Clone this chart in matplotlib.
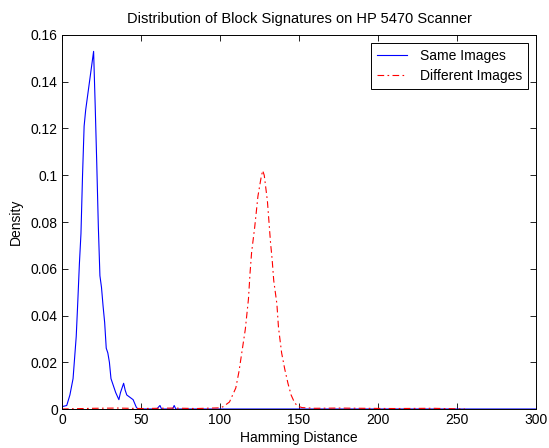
import numpy as np
import matplotlib
matplotlib.use('Agg')
import matplotlib.pyplot as plt

plt.rcParams['font.family'] = ['Liberation Sans', 'DejaVu Sans']

# Same Images (blue)
same_x = [0, 3, 5, 7, 9, 10, 11, 12, 13, 14, 15, 17, 19, 20, 21, 22, 23, 24, 25, 26,
          27, 28, 29, 30, 31, 32, 33, 34, 36, 37, 39, 40, 41, 43, 45, 47, 48,
          60, 62, 63, 70, 71, 72, 300]
same_y = [0.001, 0.0015, 0.006, 0.013, 0.031, 0.046, 0.062, 0.075, 0.100, 0.121,
          0.128, 0.138, 0.148, 0.153, 0.130, 0.105, 0.078, 0.057, 0.052, 0.044,
          0.037, 0.026, 0.024, 0.020, 0.013, 0.011, 0.009, 0.007, 0.004, 0.007,
          0.011, 0.008, 0.006, 0.005, 0.004, 0.0008, 0.0,
          0.0, 0.0015, 0.0, 0.0, 0.0015, 0.0, 0.0]

# Different Images (red)
diff_x = [0, 20, 35, 50, 70, 85, 100, 102, 104, 106, 108, 110, 112, 114, 116, 118,
          119, 120, 122, 124, 126, 127, 128, 130, 131, 132, 133, 134, 136, 137, 139,
          141, 143, 145, 147, 149, 152, 160, 175, 190, 210, 235, 255]
diff_y = [0.0, 0.0003, 0.0004, 0.0002, 0.0004, 0.0002, 0.0005, 0.001, 0.002, 0.003,
          0.006, 0.009, 0.016, 0.025, 0.034, 0.047, 0.058, 0.067, 0.078, 0.091,
          0.099, 0.102, 0.100, 0.089, 0.080, 0.071, 0.064, 0.055, 0.045, 0.035,
          0.024, 0.017, 0.011, 0.006, 0.003, 0.0012, 0.0006, 0.0003, 0.0004,
          0.0003, 0.0002, 0.0003, 0.0]

xticks = [0, 50, 100, 150, 200, 250, 300]
yticks = [0, 0.02, 0.04, 0.06, 0.08, 0.1, 0.12, 0.14, 0.16]
ylabels = ['0', '0.02', '0.04', '0.06', '0.08', '0.1', '0.12', '0.14', '0.16']

fig = plt.figure(figsize=(5.49, 4.48), dpi=100)
ax = fig.add_axes([62/549, 39/448, 474/549, 374/448])

ax.plot(same_x, same_y, color='#0000ff', lw=0.8, label='Same Images')
ax.plot(diff_x, diff_y, color='#ff0000', lw=0.8, dashes=(6, 3, 1.5, 3),
        label='Different Images')

ax.set_xlim(0, 300)
ax.set_ylim(0, 0.16)
ax.set_xticks(xticks)
ax.set_yticks(yticks)
ax.set_yticklabels(ylabels)
ax.tick_params(direction='in', length=4, width=0.6, top=True, right=True,
               labelsize=10, pad=3)
for s in ax.spines.values():
    s.set_linewidth(0.7)

ax.set_title('Distribution of Block Signatures on HP 5470 Scanner', fontsize=10.5, pad=9)
ax.set_xlabel('Hamming Distance', fontsize=10, labelpad=3)
ax.set_ylabel('Density', fontsize=10, labelpad=6)

leg = ax.legend(loc='upper right', fontsize=10, fancybox=False, framealpha=1,
                edgecolor='black', handlelength=2.2, borderaxespad=0.6,
                labelspacing=0.45, borderpad=0.4, handletextpad=0.9)
leg.get_frame().set_linewidth(0.7)

plt.savefig('out.png', dpi=100)
